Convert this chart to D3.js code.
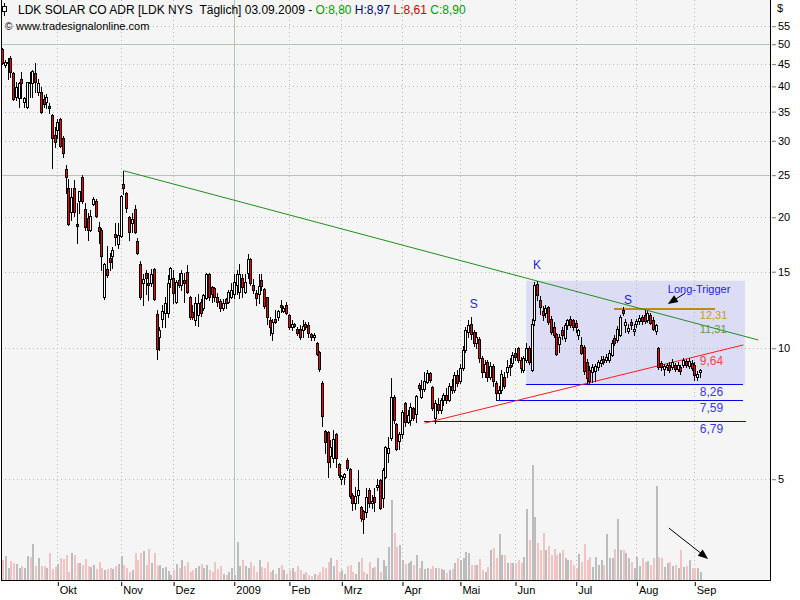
<!DOCTYPE html>
<html><head><meta charset="utf-8">
<script src="https://cdn.jsdelivr.net/npm/d3@7"></script>
<style>body{margin:0;background:#fff}svg{display:block}text{font-family:"Liberation Sans",Arial,sans-serif}</style>
</head><body><svg id="c" width="800" height="600"></svg>
<script>
// ---- data (index 0 = 03.09.2008, index 253 = 03.09.2009), one entry per trading day ----
const openP = [
48.7,44.9,45.3,46.4,42.9,37.8,37.6,41.6,36.8,35.9,40.9,40.7,42.9,38.9,38.9,37.4,36.8,36.1,34.4,30.9,
31.8,33.7,30.5,25.8,23.4,20.6,23.4,19.3,21.8,24.7,20.9,19.9,18.7,21.5,21.8,19.0,18.7,13.1,15.2,16.1,16.3,18.3,17.4,
18.1,23.8,22.8,20.0,19.4,20.9,17.6,15.6,14.1,14.9,14.1,14.1,15.2,12.0,10.6,11.7,12.05,12.05,14.4,
14.5,12.8,14.35,14.0,14.35,15.0,13.1,12.1,11.6,11.9,12.8,12.38,13.05,14.8,13.8,13.75,13.1,12.85,12.4,13.0,12.8,13.1,
13.3,14.0,13.45,14.5,13.45,14.9,16.0,14.0,13.4,13.3,14.35,13.7,13.1,11.6,10.85,11.65,11.8,12.6,12.2,12.6,
11.9,11.2,11.4,11.05,11.1,11.0,11.35,11.3,10.8,10.6,10.3,9.8,8.3,6.45,6.42,5.64,5.6,6.35,5.42,
5.0,5.06,5.54,5.28,4.6,4.41,4.6,4.32,4.23,4.21,4.72,4.41,4.55,4.8,4.98,4.53,5.06,5.73,6.22,7.72,6.7,6.13,
6.35,7.49,6.77,6.84,7.29,7.07,8.23,7.73,8.06,8.37,8.78,8.14,6.92,7.45,7.2,7.6,7.8,7.6,8.2,8.0,8.7,
8.4,9.0,9.9,10.9,11.4,10.9,10.3,10.5,9.5,8.8,9.3,8.6,9.1,8.3,7.9,8.0,8.6,8.8,9.15,9.25,
9.75,10.0,9.4,8.9,9.4,10.0,8.9,11.6,14.05,12.9,12.2,12.05,12.45,11.7,11.2,10.8,10.25,11.0,10.55,11.3,11.7,11.6,
11.45,10.75,10.2,10.05,9.3,8.9,8.8,8.85,9.05,9.25,9.45,9.4,9.4,9.65,10.55,10.45,10.75,12.25,11.3,10.95,11.5,10.95,
11.35,11.55,11.8,11.9,11.6,11.9,11.6,10.95,10.0,9.25,8.95,9.05,9.15,9.05,9.15,8.95,9.05,9.15,9.35,9.1,9.25,
9.15,8.6,8.80];
const highP = [
49.0,46.0,46.4,46.9,43.2,40.9,40.9,43.2,37.8,41.0,43.2,43.6,45.2,41.6,39.8,38.2,38.5,36.6,34.6,32.3,
33.7,33.9,30.7,26.4,24.5,23.4,24.4,21.6,23.0,25.0,21.6,20.5,20.8,22.3,22.0,19.5,18.9,15.7,17.2,16.6,17.1,19.4,19.4,
22.5,25.6,22.9,20.1,20.5,21.4,17.9,15.9,14.8,15.1,14.9,15.2,15.3,12.25,11.2,12.6,13.1,14.7,15.4,
15.1,14.35,14.9,15.1,14.9,15.5,13.2,12.6,13.1,13.3,13.0,13.3,14.9,14.9,13.9,13.8,13.4,13.0,13.0,13.05,13.6,14.1,
14.8,15.1,15.6,14.8,14.8,16.5,16.1,14.4,13.6,14.8,14.8,13.75,13.15,11.8,11.7,12.25,12.25,12.9,12.5,12.8,
12.0,11.6,11.45,11.2,11.3,11.6,11.5,11.5,10.85,10.85,10.35,9.85,8.4,6.5,6.45,6.16,6.49,6.38,5.45,
5.11,5.18,5.6,5.3,4.65,4.8,5.25,4.35,4.25,4.77,4.77,4.6,4.77,5.0,5.0,5.3,5.97,6.25,8.55,7.81,6.73,6.42,
7.22,7.53,7.22,7.49,7.33,7.81,8.32,8.46,8.82,8.92,8.82,8.19,7.61,7.7,7.7,7.9,8.1,8.3,8.5,8.8,8.9,
9.2,10.1,11.2,11.6,11.8,11.0,10.9,10.6,9.6,9.4,9.4,9.3,9.2,8.4,8.2,8.9,8.8,9.4,9.5,9.8,
10.0,10.05,9.55,9.6,10.3,10.1,11.7,14.2,14.3,13.2,12.5,12.6,12.5,11.85,11.5,10.85,10.8,11.2,11.45,11.7,11.85,11.7,
11.6,11.1,10.6,10.2,9.45,9.1,9.2,9.2,9.4,9.6,9.6,9.7,9.9,10.45,10.7,11.25,11.95,12.45,11.65,11.35,11.7,11.4,
11.7,11.9,11.95,12.25,12.2,12.05,11.8,11.4,10.05,9.35,9.2,9.25,9.3,9.45,9.25,9.3,9.15,9.5,9.45,9.5,9.4,
9.3,8.85,8.97];
const lowP = [
45.0,44.4,41.6,42.0,37.2,37.2,35.9,37.6,35.9,35.7,37.8,37.8,38.9,38.2,34.7,35.9,35.7,34.7,26.0,29.0,
30.5,29.0,27.5,22.7,19.2,19.7,20.1,17.5,20.5,21.6,18.7,17.7,18.6,21.3,20.0,17.5,15.1,13.0,14.6,15.1,15.3,17.3,17.0,
18.0,22.6,20.6,17.7,18.5,18.4,16.5,13.0,12.6,13.3,12.9,13.9,12.9,9.45,9.9,11.2,11.2,11.8,13.8,
12.7,12.7,13.8,13.6,12.8,13.4,11.7,11.7,11.3,11.25,11.85,12.25,13.0,12.9,12.8,12.85,12.5,12.2,12.25,12.4,12.7,13.05,
13.05,13.3,13.05,13.1,13.4,14.5,14.0,13.4,12.6,12.7,13.6,12.4,11.4,10.7,10.45,11.45,11.6,12.1,12.1,12.0,
11.05,11.0,11.2,10.7,10.5,10.6,11.05,10.6,10.45,10.45,9.65,8.85,6.64,5.75,5.05,5.33,5.47,5.33,5.05,
4.88,4.88,5.25,4.53,4.25,4.27,4.41,4.01,3.76,4.1,4.32,4.3,4.23,4.72,4.27,4.32,5.03,5.47,6.16,6.73,5.84,5.87,
6.22,6.63,6.73,6.66,6.84,6.77,8.02,7.69,7.98,8.32,8.37,7.22,6.73,7.1,7.1,7.4,7.5,7.55,7.9,7.95,8.2,
8.3,8.9,9.8,10.6,10.5,10.1,10.0,9.3,8.6,8.6,8.4,8.5,8.2,7.62,7.65,7.9,8.1,8.6,8.7,9.1,
9.4,9.3,8.8,8.8,9.3,9.2,8.85,11.3,12.9,12.0,11.6,11.8,11.4,10.8,10.6,9.65,9.8,10.5,10.4,11.1,11.2,11.0,
10.9,10.5,9.7,8.75,8.3,8.28,8.35,8.4,8.9,9.1,9.2,9.3,9.3,9.6,10.2,10.35,10.65,11.9,10.9,10.85,11.1,10.75,
11.2,11.4,11.4,11.45,11.5,11.35,11.0,10.8,8.95,8.9,8.7,8.9,8.8,8.95,8.85,8.85,8.75,9.05,9.05,9.0,8.9,
8.45,8.45,8.61];
const closeP = [
45.3,45.4,45.5,43.2,37.4,39.9,40.7,40.7,37.6,40.9,40.7,43.4,40.9,40.7,34.9,36.5,37.8,35.7,30.5,29.8,
33.1,29.2,28.1,24.7,19.3,22.3,20.6,19.1,23.0,21.8,19.0,18.7,20.1,22.0,20.1,18.6,16.3,15.6,14.7,15.8,16.8,18.0,18.2,
22.4,23.4,21.0,18.5,19.8,18.5,16.6,13.1,14.4,14.5,14.0,14.8,13.0,9.95,11.0,12.15,12.7,14.1,15.3,
13.4,14.2,14.0,14.9,14.1,13.5,11.8,11.8,12.7,12.7,12.05,13.26,14.8,13.1,13.3,13.1,12.8,12.4,12.7,12.7,13.5,13.6,
14.2,14.8,14.8,13.8,14.2,16.0,14.1,13.6,13.05,13.9,13.9,12.5,11.8,11.2,11.5,11.5,12.2,12.45,12.35,12.05,
11.2,11.4,11.25,10.85,10.6,11.25,11.2,10.85,10.6,10.75,9.7,8.95,6.99,6.1,5.48,5.94,6.2,5.6,5.11,
5.08,5.14,5.3,4.58,4.41,4.58,4.72,4.08,4.05,4.55,4.41,4.46,4.43,4.85,4.29,5.25,5.94,5.9,7.72,6.84,5.87,6.35,
7.15,6.77,7.03,7.33,6.92,7.77,8.1,8.06,8.41,8.78,8.46,7.3,7.49,7.2,7.6,7.8,7.6,8.2,8.0,8.7,8.3,
9.0,9.9,11.0,11.3,10.8,10.3,10.6,9.5,8.8,9.2,8.6,9.1,8.4,7.9,8.0,8.75,8.2,9.05,9.05,9.65,
9.55,9.4,9.0,9.5,10.0,9.3,11.4,14.0,13.25,12.45,11.95,12.4,11.5,10.9,10.7,9.7,10.6,10.7,11.3,11.6,11.3,11.2,
11.2,11.0,9.75,8.85,8.55,8.4,9.05,9.1,9.3,9.4,9.3,9.55,9.75,10.3,10.3,11.1,11.8,12.05,11.5,11.15,11.3,11.1,
11.55,11.75,11.55,11.55,12.05,11.45,11.1,11.3,9.05,9.05,9.1,9.15,8.9,9.3,8.95,9.15,8.85,9.4,9.15,9.35,9.0,
8.7,8.75,8.90];
// volume in million shares
const volume = [
5,6,3,4.8,4.2,4,3,3.5,3,6,5.8,9,3.5,5.5,3.5,3.5,3,6.8,2.8,3.3,
4,5.5,5.2,6.2,2,6.8,6.2,4.2,4.2,3.8,5.2,3.5,3.2,3.8,2.8,4.5,3,2.5,2.8,3,2.8,3.5,4,
6,3.8,3,2,2.5,6.8,5,6.8,7.2,3.8,7.8,4.2,6.8,3.5,3.8,3,3.2,2.2,1.2,
2.5,4,3,5,3.5,4.5,2,2.5,3,3.5,4,3,3.8,2.5,2,4.5,2.8,3.5,1.5,1.2,2,3,
1.2,9.5,3.5,5,3.5,3,4.5,3.5,2,5,3.2,3,4.5,2,2.5,1.5,3,3.8,2.5,1.5,
2.5,3,2,3.5,2.5,1.5,2,1.2,1,1.5,1.2,2,3.2,3,4.5,5.5,3.5,5,2,
2.5,1.5,3.5,3.8,2,1.5,4.5,5.5,2,1.5,4.5,3,3.2,5.5,2,5,3.5,8.2,20,11.8,8.2,8.8,
5,4,4.2,4.8,3.8,6.2,3,4.8,2.8,3,2.8,3.5,3,3,2.8,2.5,1.8,2.5,2.8,4.2,5.5,
5,5.5,7,6.8,3.8,3.8,3.8,5.2,2.5,2,3.2,7.5,8,5.5,11.5,6.2,6.2,4.2,4.2,4.2,
4.2,5,4.2,5.8,17.8,10,28.8,15.8,9.2,7.5,11.8,7.5,8.5,6.2,7.8,6.2,6.8,7.5,5.5,5,5,3.8,
3,6.5,4.5,9,5,5.8,3.2,5.8,3.8,5,3.8,11.5,5.5,5.5,7.8,15.2,7.5,7.5,6.8,5.5,4.5,3,
5.8,3.5,5.5,4.5,4.8,3.8,5.5,23.5,5.8,5.5,3.2,4.2,4.5,3.5,3.8,3,7.5,3.2,3.5,5,3,
3,3,2];
const monthLabels = ["Okt","Nov","Dez","2009","Feb","Mrz","Apr","Mai","Jun","Jul","Aug","Sep"];
const monthStart  = [20,43,62,84,104,123,145,166,186,208,230,251];
const yTicks = [5,10,15,20,25,30,35,40,45,50,55];
const solidLevels = [25,50];
// annotation levels
const levelValues = [8.26,7.59,6.79];
const levelLabels = ["8,26","7,59","6,79"];
const levelFrom = [190,179.5,153];
const levelTo = [268.8,268.8,269.8];
const triggerValue = 12.31, triggerFrom = 221.9, triggerTo = 258.5;
const greenLine = [[44,25.6],[274.2,10.45]];
const redLine = [[153.3,6.73],[268.8,10.18]];
const boxIdx = [190,269.4], boxPrice = [14.3,8.26];

// ---- drawing ----
const svg = d3.select("#c");
const L=1, R=770, T=0, B=580;
const x = d3.scaleLinear().domain([0,253]).range([2.15,699.8]);
const y = d3.scaleLog().domain([2.933,63.19]).range([B,T]);
const yv = d3.scaleLinear().domain([0,30]).range([B,B-120]);
const px = v => Math.round(v);

svg.append("rect").attr("width",800).attr("height",600).attr("fill","#fff");
svg.append("rect").attr("x",L).attr("y",T).attr("width",R-L).attr("height",B-T).attr("fill","#f5f5f5");

// box
svg.append("rect").attr("x",x(boxIdx[0])).attr("width",x(boxIdx[1])-x(boxIdx[0]))
  .attr("y",y(boxPrice[0])).attr("height",y(boxPrice[1])-y(boxPrice[0])).attr("fill","#dcdcf5");

// grid
const g = svg.append("g").attr("shape-rendering","crispEdges");
yTicks.forEach(v=>{
  const yy = px(y(v))+0.5, solid = solidLevels.includes(v);
  g.append("line").attr("x1",L).attr("x2",R).attr("y1",yy).attr("y2",yy)
   .attr("stroke",solid?"#b2c6b2":"#b4bab4").attr("stroke-dasharray",solid?null:"1,3");
});
monthStart.forEach((s,k)=>{
  const xx = px(x(s))+0.5, solid = monthLabels[k]==="2009";
  g.append("line").attr("x1",xx).attr("x2",xx).attr("y1",T).attr("y2",B)
   .attr("stroke",solid?"#b2c6b2":"#b4bab4").attr("stroke-dasharray",solid?null:"1,3");
});

// volume
const idx = d3.range(closeP.length);
svg.append("g").attr("shape-rendering","crispEdges").selectAll("rect").data(idx).join("rect")
  .attr("x",i=>px(x(i))).attr("width",2)
  .attr("y",i=>yv(volume[i])).attr("height",i=>B-yv(volume[i]))
  .attr("fill",i=>closeP[i]>=openP[i]?"#bdbdbd":"#f1c3c3");

// horizontal levels
const lv = svg.append("g").attr("shape-rendering","crispEdges");
levelValues.forEach((v,k)=>{
  const yy = px(y(v))+0.5;
  lv.append("line").attr("x1",x(levelFrom[k])).attr("x2",x(levelTo[k])).attr("y1",yy).attr("y2",yy)
    .attr("stroke","#0000ee").attr("stroke-width",1);
});
lv.append("line").attr("x1",x(triggerFrom)).attr("x2",x(triggerTo))
  .attr("y1",y(triggerValue)).attr("y2",y(triggerValue)).attr("stroke","#c08a10").attr("stroke-width",2);

// trend lines
svg.append("line").attr("x1",x(greenLine[0][0])).attr("y1",y(greenLine[0][1]))
  .attr("x2",x(greenLine[1][0])).attr("y2",y(greenLine[1][1])).attr("stroke","#1f8f1f").attr("stroke-width",1);
svg.append("line").attr("x1",x(redLine[0][0])).attr("y1",y(redLine[0][1]))
  .attr("x2",x(redLine[1][0])).attr("y2",y(redLine[1][1])).attr("stroke","#ff1a1a").attr("stroke-width",1);

// candles
const cg = svg.append("g").attr("shape-rendering","crispEdges");
cg.selectAll("line").data(idx).join("line")
  .attr("x1",i=>px(x(i))+0.5).attr("x2",i=>px(x(i))+0.5)
  .attr("y1",i=>px(y(highP[i]))).attr("y2",i=>px(y(lowP[i]))+1)
  .attr("stroke","#000");
cg.selectAll("rect").data(idx).join("rect")
  .attr("x",i=>px(x(i))-0.5).attr("width",2)
  .attr("y",i=>px(y(Math.max(openP[i],closeP[i])))+0.5)
  .attr("height",i=>Math.max(1,px(y(Math.min(openP[i],closeP[i])))-px(y(Math.max(openP[i],closeP[i])))))
  .attr("fill",i=>closeP[i]>=openP[i]?"#fff":"#ff0000").attr("stroke","#000");

// frame
const fr = svg.append("g").attr("shape-rendering","crispEdges").attr("stroke","#000");
fr.append("line").attr("x1",L+0.5).attr("x2",L+0.5).attr("y1",T).attr("y2",B+1);
fr.append("line").attr("x1",R+0.5).attr("x2",R+0.5).attr("y1",T).attr("y2",B+1);
fr.append("line").attr("x1",L).attr("x2",R+1).attr("y1",B+0.5).attr("y2",B+0.5);

// right axis
const ya = svg.append("g").attr("transform",`translate(${R+2},0)`)
  .call(d3.axisRight(y).tickValues(yTicks).tickSize(4).tickPadding(2).tickFormat(d3.format("d")));
ya.select(".domain").remove();
ya.selectAll(".tick line").attr("stroke","#777");
ya.selectAll("text").attr("font-size",11).attr("fill","#000").attr("font-family","Liberation Sans, Arial");
svg.append("text").attr("x",777).attr("y",12).attr("font-size",11).text("$");

// bottom axis
const xa = svg.append("g").attr("transform",`translate(0,${B+2})`)
  .call(d3.axisBottom(x).tickValues(monthStart).tickSize(4).tickFormat((d,k)=>monthLabels[k]));
xa.select(".domain").remove();
xa.selectAll(".tick line").attr("stroke","#000").attr("transform","translate(0.5,0)");
xa.selectAll("text").attr("font-size",11).attr("fill","#000").attr("text-anchor","start")
  .attr("x",2).attr("y",4).attr("dy","0.71em").attr("font-family","Liberation Sans, Arial");

// level labels
const lx = x(253);
const lab = (t,v,dy,col,fs)=>svg.append("text").attr("x",lx).attr("y",y(v)+dy).attr("font-size",fs||12).attr("fill",col).text(t);
levelValues.forEach((v,k)=>lab(levelLabels[k],v,12,"#3838f0"));
lab("9,64",9.64,10,"#f04848");
lab("12,31",triggerValue,10,"#c89a20",11);
lab("11,31",11.31,8,"#5a9a40",11);

// pattern labels
const pl = (t,i,v,dy)=>svg.append("text").attr("x",x(i)).attr("y",y(v)+dy).attr("font-size",12)
  .attr("fill","#2323e6").attr("text-anchor","middle").text(t);
pl("K",194,14.3,-12);
pl("S",171,11.8,-9);
pl("S",227,12.45,-3);
svg.append("text").attr("x",x(241.4)).attr("y",y(13.38)).attr("font-size",11).attr("fill","#2323e6").text("Long-Trigger");

// arrows
function arrow(i1,v1,i2,v2){
  const x1=x(i1),y1=y(v1),x2=x(i2),y2=y(v2);
  const a=Math.atan2(y2-y1,x2-x1), len=10, w=4;
  svg.append("line").attr("x1",x1).attr("y1",y1).attr("x2",x2-Math.cos(a)*len*0.6).attr("y2",y2-Math.sin(a)*len*0.6).attr("stroke","#000");
  const bx=x2-Math.cos(a)*len, by=y2-Math.sin(a)*len;
  svg.append("path").attr("d",`M${x2},${y2}L${bx-Math.sin(a)*w},${by+Math.cos(a)*w}L${bx+Math.sin(a)*w},${by-Math.cos(a)*w}Z`).attr("fill","#000");
}
arrow(247.6,13.38,241.4,12.64);
arrow(241.8,3.86,256,3.28);

// header
const hd = svg.append("g");
hd.append("line").attr("x1",4.5).attr("x2",4.5).attr("y1",3).attr("y2",16).attr("stroke","#000");
hd.append("rect").attr("x",2.5).attr("y",6.5).attr("width",4).attr("height",5).attr("fill","#fff").attr("stroke","#000");
const ht = hd.append("text").attr("x",18).attr("y",14).attr("font-size",12).attr("fill","#000");
ht.append("tspan").text("LDK SOLAR CO ADR [LDK NYS\u00a0\u00a0Täglich] 03.09.2009 - ");
ht.append("tspan").attr("fill","#00a000").text("O:" + d3.format(".2f")(openP[253]).replace(".",","));
ht.append("tspan").attr("fill","#000080").text(" H:" + d3.format(".2f")(highP[253]).replace(".",","));
ht.append("tspan").attr("fill","#d00000").text(" L:" + d3.format(".2f")(lowP[253]).replace(".",","));
ht.append("tspan").attr("fill","#00a000").text(" C:" + d3.format(".2f")(closeP[253]).replace(".",","));
hd.append("text").attr("x",5).attr("y",30).attr("font-size",10).text("©");
hd.append("text").attr("x",16).attr("y",30).attr("font-size",11).text("www.tradesignalonline.com");
</script></body></html>
